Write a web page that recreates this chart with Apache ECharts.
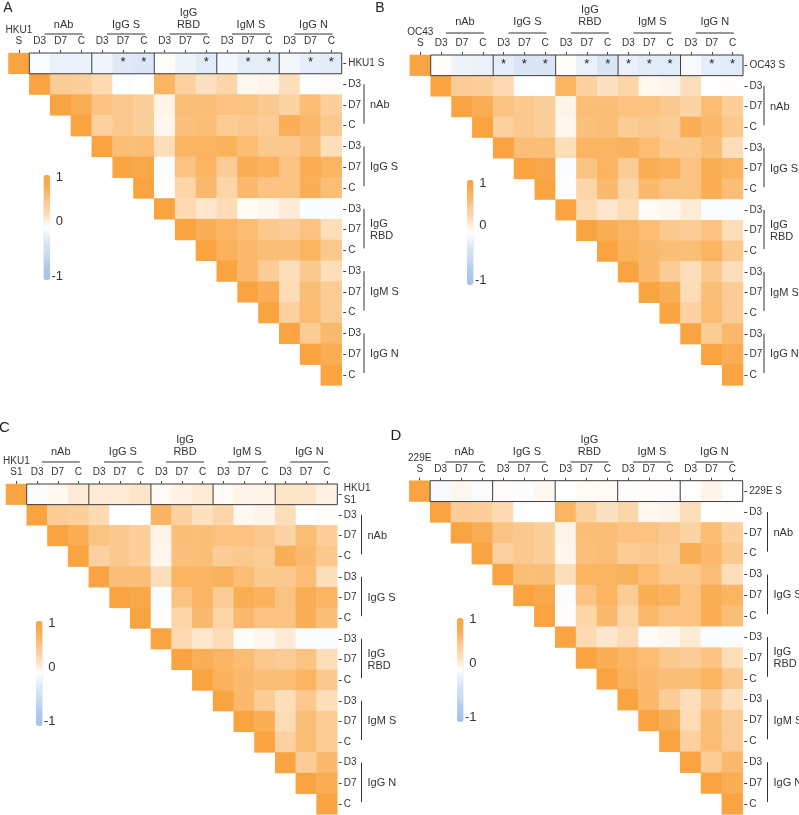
<!DOCTYPE html>
<html><head><meta charset="utf-8">
<script src="https://cdn.jsdelivr.net/npm/echarts@6/dist/echarts.min.js"></script>
<style>html,body{margin:0;padding:0;background:#fff}#c{width:799px;height:815px}</style>
</head><body><div id="c"></div>
<script>
// ---------- data ----------
const subLabels = ['D3', 'D7', 'C'];
const groups = ['nAb', 'IgG S', 'IgG\nRBD', 'IgM S', 'IgG N'];
const panelLetters = ['A', 'B', 'C', 'D'];
const targetTop = ['HKU1\nS', 'OC43\nS', 'HKU1\nS1', '229E\nS'];
const targetRight = ['HKU1 S', 'OC43 S', 'HKU1\nS1', '229E S'];
const colorbarTicks = ['1', '0', '-1'];

// correlation of each target with itself, then with the 15 antibody readouts
const topA = [1, -0.04, -0.15, -0.15, -0.1, -0.24, -0.26, 0.02, -0.12, -0.22, -0.08, -0.2, -0.2, -0.09, -0.19, -0.21];
const topB = [1, 0.02, -0.12, -0.15, -0.2, -0.3, -0.3, 0.02, -0.15, -0.3, -0.15, -0.22, -0.22, -0.05, -0.2, -0.22];
const topC = [1, -0.03, 0.05, 0.15, 0.15, 0.15, 0.2, 0.04, 0.1, 0.15, 0.04, 0.08, 0.08, 0.2, 0.2, 0.1];
const topD = [1, -0.05, 0.06, -0.04, 0.02, -0.03, 0.05, 0.0, 0.04, 0.04, 0.01, 0.02, 0.02, 0.0, 0.08, -0.02];
// significance stars (1 = starred) for the 15 readouts
const starsA = [0, 0, 0, 0, 1, 1, 0, 0, 1, 0, 1, 1, 0, 1, 1];
const starsB = [0, 0, 0, 1, 1, 1, 0, 1, 1, 1, 1, 1, 0, 1, 1];
const starsC = [0, 0, 0, 0, 0, 0, 0, 0, 0, 0, 0, 0, 0, 0, 0];
const starsD = [0, 0, 0, 0, 0, 0, 0, 0, 0, 0, 0, 0, 0, 0, 0];

// upper triangle among the 15 readouts (row i: columns i..14)
const tri = [
  [1, 0.45, 0.42, 0.3, -0.02, 0.0, 0.7, 0.4, 0.22, 0.35, 0.05, 0.08, 0.25, 0.0, 0.02],
  [1, 0.8, 0.55, 0.5, 0.42, 0.08, 0.6, 0.6, 0.56, 0.56, 0.5, 0.38, 0.62, 0.42],
  [1, 0.4, 0.5, 0.42, 0.06, 0.58, 0.6, 0.45, 0.5, 0.45, 0.75, 0.65, 0.5],
  [1, 0.6, 0.6, 0.25, 0.7, 0.7, 0.72, 0.62, 0.5, 0.5, 0.6, 0.25],
  [1, 0.9, -0.03, 0.55, 0.7, 0.45, 0.78, 0.72, 0.55, 0.78, 0.7],
  [1, 0.01, 0.35, 0.65, 0.35, 0.65, 0.55, 0.55, 0.75, 0.6],
  [1, 0.3, 0.18, 0.28, 0.03, 0.06, 0.15, -0.03, -0.03],
  [1, 0.75, 0.7, 0.62, 0.5, 0.45, 0.55, 0.25],
  [1, 0.72, 0.65, 0.6, 0.6, 0.7, 0.5],
  [1, 0.65, 0.45, 0.25, 0.5, 0.25],
  [1, 0.75, 0.28, 0.6, 0.45],
  [1, 0.4, 0.62, 0.45],
  [1, 0.45, 0.65],
  [1, 0.8],
  [1]
];
const topRows = [topA, topB, topC, topD];
const starRows = [starsA, starsB, starsC, starsD];

// ---------- layout / style ----------
const FONT = 'Liberation Sans, Arial, sans-serif';
const layout = [
  {left: 8.5, top: 53, width: 333.2, height: 332.4, cbX: 43.5, cbY: 175, cbH: 105, cbLabY: [177.5, 221, 276], letter: [8, 8, 14], gLineY: 34, gLabY: 25, bracketX: 364},
  {left: 409.9, top: 55, width: 333.1, height: 330.4, cbX: 467, cbY: 180, cbH: 105, cbLabY: [183, 225, 280], letter: [380, 8, 14], gLineY: 33, gLabY: 22, bracketX: 764},
  {left: 6, top: 484, width: 331.3, height: 330.3, cbX: 36, cbY: 621, cbH: 105, cbLabY: [623, 667, 721], letter: [4.5, 427.5, 15], gLineY: 462, gLabY: 452, bracketX: 361.5},
  {left: 409.3, top: 480.7, width: 333.4, height: 333.7, cbX: 457, cbY: 618, cbH: 104, cbLabY: [619, 663, 717], letter: [396, 435.5, 15], gLineY: 462, gLabY: 452, bracketX: 767.5}
];
// colour stops evenly spaced from -1 to 1
const COLORS = ['#a4c2ea', '#afc9ed', '#c8dbf2', '#dee8f7', '#ffffff', '#fddeba', '#fbc88d', '#faaf57', '#f9a440'];

const chart = echarts.init(document.getElementById('c'));
const idx16 = Array.from({length: 16}, (_, i) => String(i));
const colLabels = p => [targetTop[p]].concat(...groups.map(() => subLabels));
const rowLabels = p => [targetRight[p]].concat(...groups.map(() => subLabels));

const grids = [], xAxes = [], yAxes = [], series = [], visualMaps = [];
layout.forEach((L, p) => {
  grids.push({left: L.left, top: L.top, width: L.width, height: L.height, containLabel: false});
  const cl = colLabels(p), rl = rowLabels(p);
  xAxes.push({
    gridIndex: p, type: 'category', position: 'top', data: idx16,
    axisLine: {show: false}, splitLine: {show: false},
    axisTick: {show: true, alignWithLabel: true, length: 3, lineStyle: {color: '#444'}},
    axisLabel: {interval: 0, margin: 6, fontSize: 10, lineHeight: 11, color: '#333', fontFamily: FONT,
      formatter: (v, i) => cl[i]}
  });
  yAxes.push({
    gridIndex: p, type: 'category', position: 'right', inverse: true, data: idx16, offset: 1.5,
    axisLine: {show: false}, splitLine: {show: false},
    axisTick: {show: true, alignWithLabel: true, length: 3, lineStyle: {color: '#444'}},
    axisLabel: {interval: 0, margin: 5, fontSize: 10, lineHeight: 12, color: '#333', fontFamily: FONT,
      formatter: (v, i) => rl[i]}
  });
  const data = [];
  const top = topRows[p], st = starRows[p];
  data.push([0, 0, top[0], 0]);
  for (let j = 1; j < 16; j++) data.push([j, 0, top[j], st[j - 1]]);
  tri.forEach((row, i) => row.forEach((v, k) => data.push([i + 1 + k, i + 1, v, 0])));
  series.push({
    type: 'heatmap', xAxisIndex: p, yAxisIndex: p, data: data,
    label: {show: true, formatter: d => d.value[3] ? '*' : '', fontSize: 13, color: '#222', offset: [0, -1], fontFamily: FONT},
    emphasis: {disabled: true}
  });
  visualMaps.push({
    type: 'continuous', seriesIndex: p, dimension: 2, min: -1, max: 1, calculable: false,
    left: L.cbX, top: L.cbY, itemWidth: 6.5, itemHeight: L.cbH, padding: 0, text: null,
    inRange: {color: COLORS}, hoverLink: false
  });
});

chart.setOption({
  animation: false,
  backgroundColor: '#fff',
  grid: grids, xAxis: xAxes, yAxis: yAxes, series: series, visualMap: visualMaps
});

// ---------- annotations positioned through the axes ----------
const g = [];
const txt = (x, y, text, size, align, valign, lh) => ({
  type: 'text', x: x, y: y, z: 120,
  style: {text: text, font: size + 'px ' + FONT, fill: '#333', align: align, textAlign: align,
    verticalAlign: valign, textVerticalAlign: valign, lineHeight: lh || size + 1}
});
layout.forEach((L, p) => {
  const px = (c, r) => chart.convertToPixel({gridIndex: p}, [c, r]);
  const a = px(0, 0), b = px(1, 1);
  const cw = b[0] - a[0], rh = b[1] - a[1];
  const x0 = px(1, 0)[0] - cw / 2, x1 = px(15, 0)[0] + cw / 2;
  const y0 = a[1] - rh / 2, y1 = a[1] + rh / 2;
  g.push({type: 'rect', z: 110, shape: {x: x0, y: y0, width: x1 - x0, height: y1 - y0},
    style: {fill: 'none', stroke: '#3c3c3c', lineWidth: 1}});
  for (let k = 1; k < 5; k++) {
    const xs = px(1 + 3 * k, 0)[0] - cw / 2;
    g.push({type: 'line', z: 110, shape: {x1: xs, y1: y0, x2: xs, y2: y1}, style: {stroke: '#3c3c3c', lineWidth: 1}});
  }
  groups.forEach((name, k) => {
    const cx = px(2 + 3 * k, 0)[0] + 3;
    g.push({type: 'line', z: 110, shape: {x1: cx - 19, y1: L.gLineY, x2: cx + 19, y2: L.gLineY}, style: {stroke: '#333', lineWidth: 1}});
    g.push(txt(cx, L.gLabY + 6, name, 11, 'center', 'bottom', 12));
    const yA = px(0, 1 + 3 * k)[1], yM = px(0, 2 + 3 * k)[1], yB = px(0, 3 + 3 * k)[1];
    g.push({type: 'line', z: 110, shape: {x1: L.bracketX, y1: yA, x2: L.bracketX, y2: yB - 2}, style: {stroke: '#333', lineWidth: 1}});
    g.push(txt(L.bracketX + 6, yM, name, 11, 'left', 'middle', 12));
  });
  colorbarTicks.forEach((t, i) => g.push(txt(L.cbX + 6.5 + 13, L.cbLabY[i], t, 13, 'right', 'middle')));
  const lt = txt(L.letter[0], L.letter[1], panelLetters[p], L.letter[2], 'center', 'middle');
  lt.style.fill = '#222';
  g.push(lt);
});
chart.setOption({graphic: g});
</script>
</body></html>
